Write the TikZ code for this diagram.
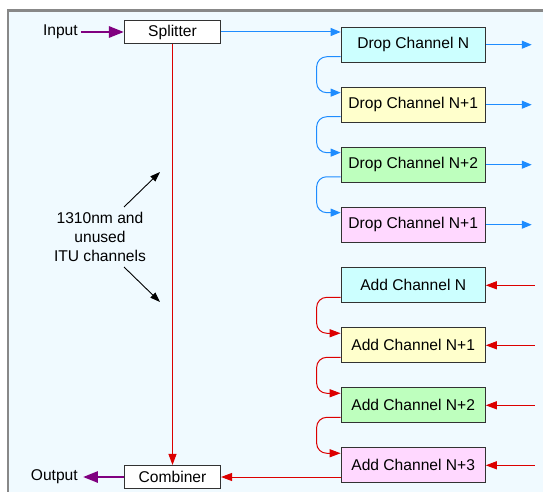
\documentclass[tikz,border=0pt]{standalone}
\usepackage{fontspec}
\setmainfont{Liberation Sans}
\usetikzlibrary{arrows.meta,positioning,calc}

\definecolor{bgblue}{RGB}{240,250,255}
\definecolor{framegray}{RGB}{136,136,136}
\definecolor{boxline}{RGB}{50,50,50}
\definecolor{cyanfill}{RGB}{204,255,255}
\definecolor{yellowfill}{RGB}{255,255,204}
\definecolor{greenfill}{RGB}{190,255,190}
\definecolor{pinkfill}{RGB}{255,216,255}
\definecolor{dropblue}{RGB}{30,140,255}
\definecolor{addred}{RGB}{220,0,0}
\definecolor{iopurple}{RGB}{128,0,128}

\begin{document}
\begin{tikzpicture}[x=1pt, y=-1pt, node distance=23.9pt,
    chan/.style={rectangle, draw=boxline, line width=1.1pt, minimum width=144pt, minimum height=35pt, inner sep=0pt, font=\fontsize{15.6}{19}\selectfont},
    unit/.style={chan, fill=white, minimum width=96pt, minimum height=23pt},
    io/.style={inner sep=3pt, font=\fontsize{15.6}{19}\selectfont},
    note/.style={align=center, font=\fontsize{15.6}{19}\selectfont},
    dropline/.style={draw=dropblue, line width=1pt, -{Triangle[length=10pt,width=8pt]}},
    addline/.style={draw=addred, line width=1pt, -{Triangle[length=11pt,width=8pt]}},
    ioarrow/.style={draw=iopurple, line width=2.8pt, -{Triangle[length=15pt,width=11pt]}},
    notearrow/.style={draw=black, line width=0.9pt, -{Triangle[length=10pt,width=7pt]}},
    hop/.style={rounded corners=10pt}]

    % Frame
    \useasboundingbox (0,0) rectangle (543,492);
    \clip (0,0) rectangle (543,492);
    \fill[white] (0,0) rectangle (543,492);
    \draw[draw=framegray, line width=2.5pt, fill=bgblue] (8,10.5) rectangle (600,550);

    % Splitter and combiner
    \node[unit] (split) at (172.5,32) {Splitter};
    \node[unit] (comb) at (172.5,477) {Combiner};
    \node[io, left=43pt of split] (in) {Input};
    \node[io, left=41pt of comb, inner sep=5pt] (out) {Output};

    % Drop channels
    \node[chan, fill=cyanfill] (drop1) at (413.2,44.7) {Drop Channel N};
    \node[chan, fill=yellowfill, below=of drop1] (drop2) {Drop Channel N+1};
    \node[chan, fill=greenfill, below=of drop2] (drop3) {Drop Channel N+2};
    \node[chan, fill=pinkfill, below=of drop3] (drop4) {Drop Channel N+1};

    % Add channels
    \node[chan, fill=cyanfill, below=24.5pt of drop4] (add1) {Add Channel N};
    \node[chan, fill=yellowfill, below=of add1] (add2) {Add Channel N+1};
    \node[chan, fill=greenfill, below=of add2] (add3) {Add Channel N+2};
    \node[chan, fill=pinkfill, below=of add3] (add4) {Add Channel N+3};

    % Note
    \node[note] (note) at (100,237) {1310nm and\\unused\\ITU channels};
    \coordinate (upend) at (160,172);
    \coordinate (downend) at (160,302);

    % Free ends on the right
    \coordinate[right=46pt of drop1] (dout1);
    \coordinate[right=46pt of drop2] (dout2);
    \coordinate[right=46pt of drop3] (dout3);
    \coordinate[right=46pt of drop4] (dout4);
    \coordinate[right=49pt of add1] (ain1);
    \coordinate[right=49pt of add2] (ain2);
    \coordinate[right=49pt of add3] (ain3);
    \coordinate[right=49pt of add4] (ain4);

    % Arrows
    \draw[ioarrow] (in) -- (split);
    \draw[ioarrow] (comb) -- (out);
    \draw[dropline] (split) -- (split -| drop1.west);
    \draw[addline] (split) -- (comb);
    \draw[addline] (comb.east -| add4.west) -- (comb.east);

    \draw[dropline, hop] ($(drop1.south west)+(0,-6)$) -- ++(-24,0) |- ($(drop2.north west)+(0,6)$);
    \draw[dropline, hop] ($(drop2.south west)+(0,-6)$) -- ++(-24,0) |- ($(drop3.north west)+(0,6)$);
    \draw[dropline, hop] ($(drop3.south west)+(0,-6)$) -- ++(-24,0) |- ($(drop4.north west)+(0,6)$);
    \draw[addline, hop] ($(add1.south west)+(0,-6)$) -- ++(-24,0) |- ($(add2.north west)+(0,6)$);
    \draw[addline, hop] ($(add2.south west)+(0,-6)$) -- ++(-24,0) |- ($(add3.north west)+(0,6)$);
    \draw[addline, hop] ($(add3.south west)+(0,-6)$) -- ++(-24,0) |- ($(add4.north west)+(0,6)$);

    \draw[dropline] (drop1) -- (dout1);
    \draw[dropline] (drop2) -- (dout2);
    \draw[dropline] (drop3) -- (dout3);
    \draw[dropline] (drop4) -- (dout4);
    \draw[addline] (ain1) -- (add1);
    \draw[addline] (ain2) -- (add2);
    \draw[addline] (ain3) -- (add3);
    \draw[addline] (ain4) -- (add4);

    \draw[notearrow] ([shift={(24,-30)}]note.center) -- (upend);
    \draw[notearrow] ([shift={(24,30)}]note.center) -- (downend);

\end{tikzpicture}
\end{document}
